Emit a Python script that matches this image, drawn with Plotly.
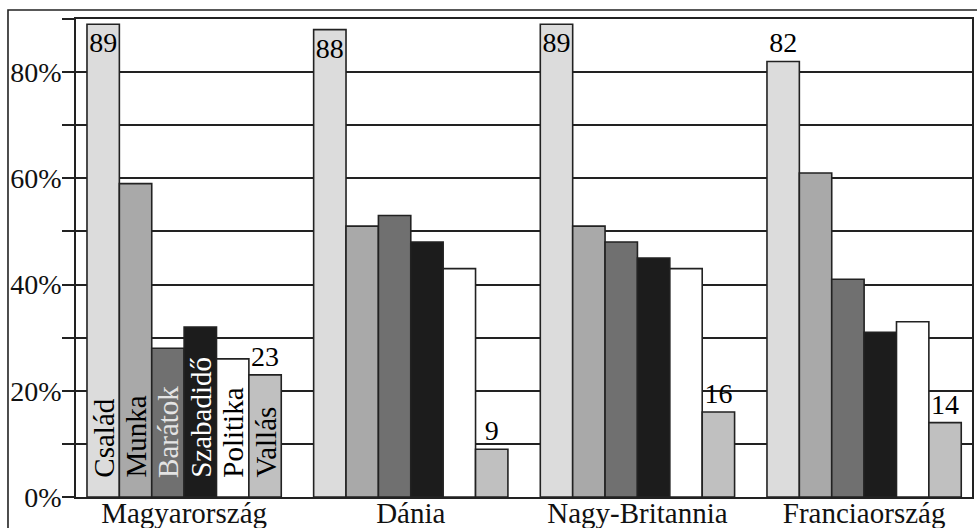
import plotly.graph_objects as go

# Countries on the category axis
countries = ["Magyarország", "Dánia", "Nagy-Britannia", "Franciaország"]

# Share of respondents (%) for each area of life, per country
series_names = ["Család", "Munka", "Barátok", "Szabadidő", "Politika", "Vallás"]
csalad = [89, 88, 89, 82]
munka = [59, 51, 51, 61]
baratok = [28, 53, 48, 41]
szabadido = [32, 48, 45, 31]
politika = [26, 43, 43, 33]
vallas = [23, 9, 16, 14]

y_tick_values = [0, 10, 20, 30, 40, 50, 60, 70, 80, 90]
y_tick_labels = ["0%", "", "20%", "", "40%", "", "60%", "", "80%", ""]

values = [csalad, munka, baratok, szabadido, politika, vallas]
fills = ["#dcdcdc", "#a9a9a9", "#707070", "#1c1c1c", "#ffffff", "#c0c0c0"]
name_colors = ["black", "black", "#e4e4e4", "white", "black", "black"]

FONT = "'Liberation Serif', 'Times New Roman', 'DejaVu Serif', serif"
BAR_GAP = 1 / 7

fig = go.Figure()
for k, (name, vals, fill) in enumerate(zip(series_names, values, fills)):
    kw = {}
    if name == "Család":
        kw = dict(text=[str(v) for v in vals],
                  textposition=["inside", "inside", "inside", "outside"])
    elif name == "Vallás":
        kw = dict(text=[str(v) for v in vals], textposition="outside")
    fig.add_trace(go.Bar(
        x=countries, y=vals, name=name,
        marker=dict(color=fill, line=dict(color="#222222", width=1.6)),
        textfont=dict(family=FONT, size=28, color="black"),
        insidetextanchor="end", constraintext="none", cliponaxis=False,
        showlegend=False, **kw,
    ))

# Rotated series names inside the first group's bars
n = len(series_names)
slot = (1 - BAR_GAP) / n
for k, name in enumerate(series_names):
    fig.add_annotation(
        x=-0.5 + BAR_GAP / 2 + (k + 0.5) * slot, y=0,
        xref="x", yref="y", text=name, textangle=-90,
        showarrow=False, xanchor="center", yanchor="bottom", yshift=17,
        font=dict(family=FONT, size=29, color=name_colors[k]),
    )

# Outer frame of the figure
fig.add_shape(type="path", xref="paper", yref="paper",
              path="M -0.0759,-0.3 L -0.0759,1.0188 L 1.2,1.0188",
              line=dict(color="#222222", width=1.6))

fig.update_layout(
    width=977, height=528,
    margin=dict(l=76, r=5, t=19, b=31),
    barmode="group", bargap=BAR_GAP, bargroupgap=0,
    plot_bgcolor="white", paper_bgcolor="white",
    font=dict(family=FONT, size=28, color="#111111"),
    xaxis=dict(
        range=[-0.477, 3.476], showgrid=False, showline=True, mirror=True,
        linecolor="#222222", linewidth=1.8, ticks="", automargin=False,
        ticklabelstandoff=-11,
        tickfont=dict(family=FONT, size=29, color="#111111"),
    ),
    yaxis=dict(
        range=[0, 90], tickvals=y_tick_values, ticktext=y_tick_labels,
        showgrid=True, gridcolor="#222222", gridwidth=1.8, zeroline=False,
        showline=True, mirror=True, linecolor="#222222", linewidth=1.8,
        ticks="outside", ticklen=12, tickwidth=1.8, tickcolor="#222222",
        ticklabelstandoff=-5,
        automargin=False, tickfont=dict(family=FONT, size=28, color="#111111"),
    ),
)

fig.write_html("out.html")
